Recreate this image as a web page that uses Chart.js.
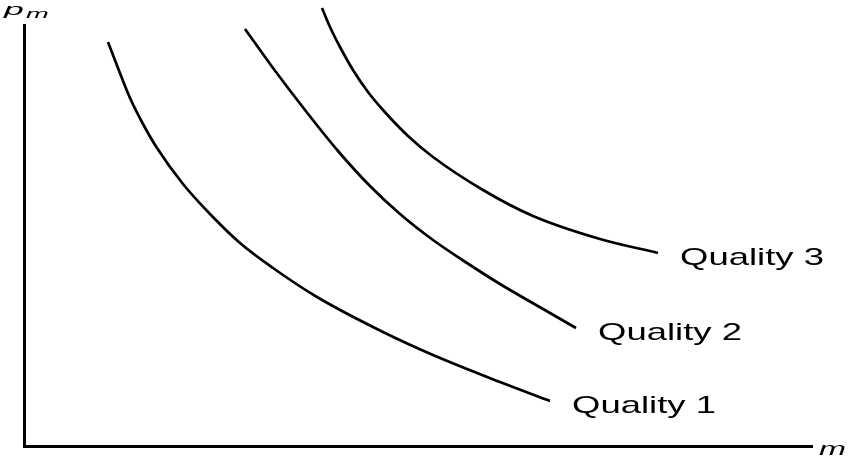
<!DOCTYPE html>
<html>
<head>
<meta charset="utf-8">
<script src="https://cdn.jsdelivr.net/npm/chart.js@4/dist/chart.umd.min.js"></script>
<style>
  html, body { margin: 0; padding: 0; background: #fff; }
  #wrap { width: 855px; height: 464px; }
</style>
</head>
<body>
<div id="wrap"><canvas id="grafico" width="855" height="464"></canvas></div>
<script>
// valores (unidades arbitrárias: m no eixo x, p_m no eixo y)
const nomes = ["Quality 1", "Quality 2", "Quality 3"];

const q1X = [84, 94, 106, 119, 133, 159, 186, 216, 249, 293, 359, 409, 476, 526];
const q1Y = [404, 378, 348, 322, 298, 262, 232, 203, 178, 149, 114, 91, 64, 45];

const q2X = [221, 249, 281, 314, 346, 376, 409, 443, 476, 526, 552];
const q2Y = [417, 378, 336, 295, 260, 232, 206, 183, 162, 133, 118];

const q3X = [298, 306, 316, 329, 344, 359, 384, 409, 459, 509, 576, 634];
const q3Y = [438, 419, 399, 376, 354, 336, 310, 289, 256, 230, 207, 193];

const xMax = 788;
const yMax = 421;

function pontos(xs, ys) {
    return xs.map((x, i) => ({ x: x, y: ys[i] }));
}

// escreve texto esticado na horizontal, como no original
function textoLargo(ctx, txt, x, y, fonte, escala) {
    ctx.save();
    ctx.font = fonte;
    ctx.translate(x, y);
    ctx.scale(escala, 1);
    ctx.fillText(txt, 0, 0);
    ctx.restore();
}

const rotulos = {
    id: "rotulos",
    afterDatasetsDraw(chart) {
        const ctx = chart.ctx;
        ctx.save();
        ctx.fillStyle = "#000";
        ctx.textBaseline = "alphabetic";
        ctx.textAlign = "left";
        chart.data.datasets.forEach((ds, i) => {
            const meta = chart.getDatasetMeta(i);
            const ult = meta.data[meta.data.length - 1];
            textoLargo(ctx, ds.label, ult.x + 22, ult.y + 12, "24px 'Liberation Sans'", 1.52);
        });
        // nomes dos eixos
        textoLargo(ctx, "p", 4, 15, "italic 17px 'Liberation Sans'", 2.1);
        textoLargo(ctx, "m", 26, 18, "italic 13px 'Liberation Sans'", 2.1);
        textoLargo(ctx, "m", chart.chartArea.right + 7, chart.chartArea.bottom + 9, "italic 19px 'Liberation Sans'", 1.7);
        ctx.restore();
    }
};

const ctx = document.getElementById("grafico").getContext("2d");
const myChart = new Chart(ctx, {
    type: "scatter",
    data: {
        datasets: [
            { label: nomes[0], data: pontos(q1X, q1Y) },
            { label: nomes[1], data: pontos(q2X, q2Y) },
            { label: nomes[2], data: pontos(q3X, q3Y) }
        ].map(d => Object.assign(d, {
            showLine: true,
            borderColor: "#000",
            borderWidth: 2.7,
            pointRadius: 0,
            cubicInterpolationMode: "monotone",
            clip: false
        }))
    },
    options: {
        responsive: false,
        animation: false,
        elements: { line: { capBezierPoints: false } },
        layout: { padding: { left: 24, right: 43, top: 25, bottom: 18 } },
        plugins: {
            legend: { display: false },
            tooltip: { enabled: false }
        },
        scales: {
            x: {
                type: "linear",
                min: 0,
                max: xMax,
                grid: { display: false },
                ticks: { display: false },
                border: { display: true, color: "#000", width: 3 },
                afterFit: s => { s.height = 0; }
            },
            y: {
                type: "linear",
                min: 0,
                max: yMax,
                grid: { display: false },
                ticks: { display: false },
                border: { display: true, color: "#000", width: 3 },
                afterFit: s => { s.width = 0; }
            }
        }
    },
    plugins: [rotulos]
});
</script>
</body>
</html>
